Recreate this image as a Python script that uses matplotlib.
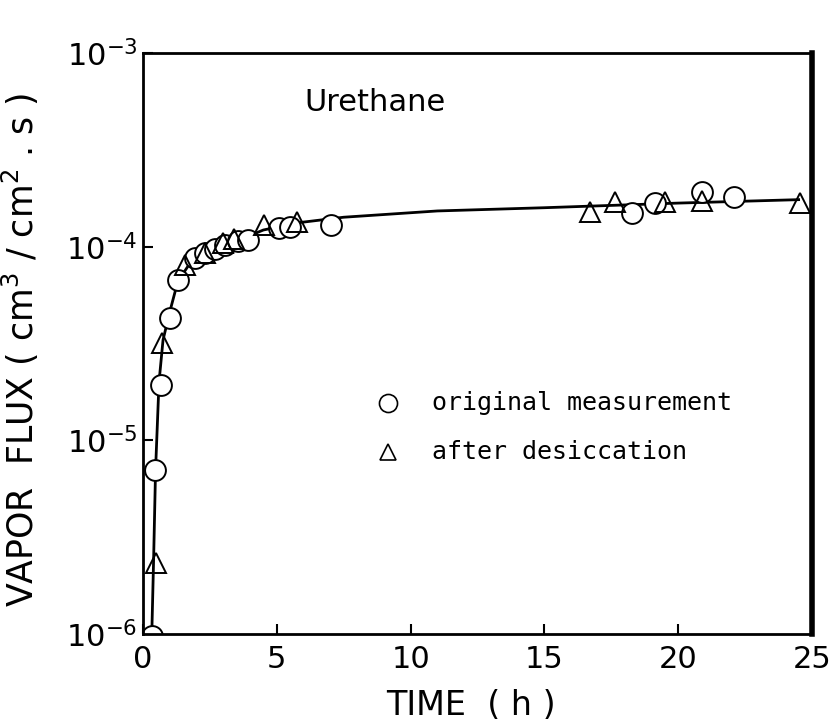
import matplotlib
matplotlib.use('Agg')
import matplotlib.pyplot as plt
import numpy as np

# ── data ──────────────────────────────────────────────────────────────────────
orig_t    = [0.35, 0.45, 0.67, 1.0, 1.31, 1.94, 2.32, 2.69, 3.06, 3.55, 3.92,
             5.1, 5.5, 7.03, 18.27, 19.13, 20.9, 22.1]
orig_flux = [0.98e-6, 7.0e-6, 1.93e-5, 4.27e-5, 6.73e-5, 8.7e-5, 9.3e-5, 9.7e-5,
             1.02e-4, 1.07e-4, 1.08e-4, 1.25e-4, 1.27e-4, 1.29e-4,
             1.49e-4, 1.68e-4, 1.91e-4, 1.80e-4]

des_t     = [0.5, 0.71, 1.57, 2.3, 3.0, 3.4, 4.52, 5.75, 16.7, 17.64, 19.5, 20.9, 24.55]
des_flux  = [2.33e-6, 3.18e-5, 8.03e-5, 9.3e-5, 1.04e-4, 1.1e-4, 1.29e-4, 1.34e-4,
             1.51e-4, 1.70e-4, 1.70e-4, 1.72e-4, 1.68e-4]

curve_t    = [0.33, 0.4, 0.47, 0.6, 0.75, 1.0, 1.3, 1.7, 2.5, 3.5, 4.5, 5.8, 7.5,
              11, 15, 20, 24.5]
curve_flux = [1.0e-6, 2.5e-6, 7e-6, 2e-5, 3.3e-5, 4.6e-5, 6.6e-5, 8e-5, 9.5e-5,
              1.07e-4, 1.22e-4, 1.33e-4, 1.42e-4, 1.53e-4, 1.59e-4, 1.68e-4, 1.75e-4]

x_ticks = [0, 5, 10, 15, 20, 25]

fig = plt.figure(figsize=(8.39, 7.28), dpi=100)
ax = fig.add_axes([0.1704, 0.1291, 0.7974, 0.798])

ax.plot(curve_t, curve_flux, color='black', lw=2.0, zorder=1)
ax.plot(orig_t, orig_flux, 'o', ms=15, mfc='white', mec='black', mew=1.4,
        zorder=2, clip_on=True)
ax.plot(des_t, des_flux, '^', ms=14, mfc='none', mec='black', mew=1.4,
        zorder=3, clip_on=True)

ax.set_yscale('log')
ax.set_xlim(0, 25)
ax.set_ylim(1e-6, 1e-3)
ax.set_xticks(x_ticks)
ax.set_xticklabels([str(v) for v in x_ticks])
ax.minorticks_off()
ax.tick_params(direction='in', length=7, width=1.5, labelsize=22,
               top=False, right=False, pad=8)
ax.tick_params(axis='y', labelsize=22, pad=4)
for s in ['left', 'bottom', 'top']:
    ax.spines[s].set_linewidth(2.0)
ax.spines['right'].set_linewidth(4.0)

ax.set_xlabel("TIME  ( h )", fontsize=24)
ax.xaxis.set_label_coords(0.49, -0.095)
ax.set_ylabel("VAPOR  FLUX ( cm$^3$ / cm$^2$ . s )", fontsize=25)
ax.yaxis.set_label_coords(-0.152, 0.49)

ax.text(0.347, 0.915, "Urethane", transform=ax.transAxes, ha='center',
        va='center', fontsize=22, family='DejaVu Sans')

# legend (hand placed)
ax.plot([0.366], [0.397], 'o', ms=13, mfc='white', mec='black', mew=1.2,
        transform=ax.transAxes, clip_on=False)
ax.plot([0.366], [0.314], '^', ms=12, mfc='white', mec='black', mew=1.2,
        transform=ax.transAxes, clip_on=False)
ax.text(0.432, 0.397, "original measurement", transform=ax.transAxes,
        va='center', fontsize=18, family='DejaVu Sans Mono')
ax.text(0.432, 0.314, "after desiccation", transform=ax.transAxes,
        va='center', fontsize=18, family='DejaVu Sans Mono')

plt.savefig("out.png", dpi=100)
plt.close()
